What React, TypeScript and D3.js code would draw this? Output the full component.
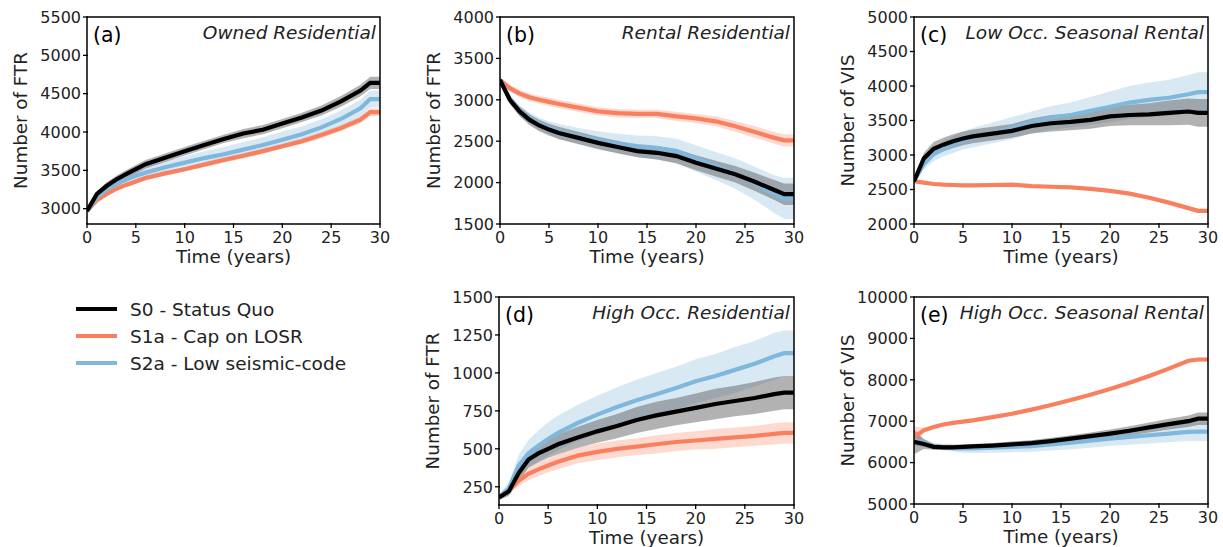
import * as d3 from 'd3';
import React from 'react';

// time axis shared by every panel
const years = [0, 1, 2, 3, 4, 5, 6, 8, 10, 12, 14, 16, 18, 20, 22, 24, 26, 28, 29, 30];

const scenarios = ['S0 - Status Quo', 'S1a - Cap on LOSR', 'S2a - Low seismic-code'];
const colors = ['#000000', '#f9805f', '#80b7dc'];

// (a) Owned Residential
const a_s0 = [2970, 3190, 3295, 3380, 3450, 3515, 3580, 3665, 3750, 3830, 3910, 3980, 4030, 4110, 4190, 4280, 4400, 4540, 4640, 4640];
const a_s0_sd = [20, 40, 45, 50, 50, 55, 55, 55, 55, 55, 55, 60, 60, 60, 60, 65, 70, 75, 80, 80];
const a_s1 = [2970, 3110, 3190, 3260, 3310, 3355, 3400, 3460, 3515, 3575, 3635, 3690, 3750, 3815, 3880, 3960, 4050, 4160, 4260, 4260];
const a_s1_sd = [15, 25, 25, 30, 30, 30, 30, 30, 30, 30, 35, 35, 35, 35, 40, 40, 40, 45, 50, 50];
const a_s2 = [2970, 3150, 3250, 3320, 3380, 3430, 3470, 3540, 3600, 3660, 3710, 3770, 3830, 3900, 3970, 4060, 4170, 4310, 4430, 4430];
const a_s2_sd = [15, 40, 50, 60, 65, 70, 75, 80, 85, 90, 95, 100, 100, 105, 105, 105, 110, 110, 110, 110];

// (b) Rental Residential
const b_s0 = [3240, 3000, 2860, 2760, 2690, 2640, 2600, 2540, 2480, 2430, 2380, 2360, 2320, 2240, 2170, 2100, 2010, 1910, 1860, 1860];
const b_s0_sd = [20, 50, 60, 65, 70, 70, 75, 75, 75, 75, 75, 80, 85, 90, 95, 100, 110, 120, 130, 130];
const b_s1 = [3240, 3140, 3075, 3030, 3000, 2975, 2950, 2905, 2860, 2840, 2830, 2830, 2800, 2775, 2740, 2680, 2610, 2540, 2510, 2510];
const b_s1_sd = [15, 40, 45, 45, 45, 50, 50, 50, 50, 50, 50, 50, 55, 55, 60, 65, 70, 70, 75, 75];
const b_s2 = [3240, 3010, 2870, 2780, 2710, 2660, 2620, 2560, 2510, 2470, 2440, 2420, 2380, 2290, 2200, 2110, 1990, 1860, 1810, 1810];
const b_s2_sd = [15, 50, 60, 70, 75, 80, 90, 100, 110, 120, 130, 140, 150, 160, 170, 185, 200, 230, 250, 250];

// (c) Low Occ. Seasonal Rental
const c_s0 = [2620, 2950, 3090, 3150, 3200, 3240, 3270, 3310, 3350, 3420, 3460, 3480, 3510, 3560, 3580, 3590, 3610, 3630, 3610, 3610];
const c_s0_sd = [20, 80, 100, 100, 100, 100, 100, 100, 100, 110, 120, 120, 130, 140, 150, 160, 180, 190, 200, 200];
const c_s1 = [2620, 2600, 2580, 2570, 2565, 2560, 2560, 2565, 2570, 2550, 2540, 2530, 2510, 2480, 2440, 2380, 2310, 2230, 2190, 2190];
const c_s1_sd = [10, 20, 20, 20, 20, 20, 20, 20, 20, 20, 20, 20, 20, 20, 20, 25, 25, 25, 30, 30];
const c_s2 = [2620, 2870, 3010, 3090, 3150, 3210, 3250, 3320, 3390, 3470, 3540, 3580, 3640, 3700, 3760, 3800, 3830, 3880, 3910, 3910];
const c_s2_sd = [20, 80, 100, 110, 120, 130, 140, 150, 160, 160, 170, 180, 200, 220, 240, 250, 260, 280, 290, 290];

// (d) High Occ. Residential
const d_s0 = [180, 220, 340, 430, 470, 500, 530, 575, 615, 650, 690, 720, 745, 770, 795, 815, 835, 860, 870, 870];
const d_s0_sd = [15, 30, 50, 55, 60, 60, 65, 70, 75, 80, 85, 90, 90, 95, 100, 100, 105, 110, 110, 110];
const d_s1 = [180, 225, 290, 335, 365, 390, 415, 455, 480, 500, 515, 530, 545, 555, 565, 575, 585, 598, 605, 605];
const d_s1_sd = [15, 25, 35, 40, 45, 45, 50, 50, 55, 55, 55, 60, 60, 60, 65, 65, 65, 70, 70, 70];
const d_s2 = [180, 240, 390, 470, 520, 565, 605, 670, 725, 775, 820, 860, 900, 945, 980, 1020, 1060, 1110, 1130, 1130];
const d_s2_sd = [15, 40, 70, 90, 100, 110, 115, 120, 125, 130, 135, 140, 140, 145, 145, 150, 150, 155, 150, 150];

// (e) High Occ. Seasonal Rental
const e_s0 = [6500, 6450, 6380, 6370, 6370, 6380, 6390, 6410, 6440, 6470, 6520, 6580, 6640, 6700, 6770, 6850, 6930, 7000, 7060, 7060];
const e_s0_sd = [300, 120, 70, 60, 60, 60, 60, 60, 70, 70, 80, 80, 90, 100, 110, 120, 130, 140, 150, 150];
const e_s1 = [6620, 6780, 6860, 6920, 6960, 6990, 7020, 7100, 7180, 7280, 7390, 7510, 7640, 7780, 7930, 8090, 8270, 8460, 8490, 8490];
const e_s1_sd = [250, 60, 40, 40, 40, 40, 40, 40, 40, 40, 40, 40, 40, 40, 45, 45, 45, 45, 45, 45];
const e_s2 = [6550, 6470, 6400, 6370, 6350, 6340, 6340, 6360, 6380, 6400, 6440, 6480, 6530, 6580, 6620, 6660, 6700, 6740, 6750, 6750];
const e_s2_sd = [150, 100, 80, 80, 90, 100, 110, 120, 130, 140, 150, 160, 170, 180, 190, 200, 210, 220, 230, 230];

const xTicks = [0, 5, 10, 15, 20, 25, 30];

const panels = [
  { tag: '(a)', title: 'Owned Residential', ylabel: 'Number of FTR', domain: [2800, 5500], ticks: [3000, 3500, 4000, 4500, 5000, 5500],
    means: [a_s0, a_s1, a_s2], sds: [a_s0_sd, a_s1_sd, a_s2_sd], box: [87, 17, 380, 224] },
  { tag: '(b)', title: 'Rental Residential', ylabel: 'Number of FTR', domain: [1500, 4000], ticks: [1500, 2000, 2500, 3000, 3500, 4000],
    means: [b_s0, b_s1, b_s2], sds: [b_s0_sd, b_s1_sd, b_s2_sd], box: [500, 17, 794, 224] },
  { tag: '(c)', title: 'Low Occ. Seasonal Rental', ylabel: 'Number of VIS', domain: [2000, 5000], ticks: [2000, 2500, 3000, 3500, 4000, 4500, 5000],
    means: [c_s0, c_s1, c_s2], sds: [c_s0_sd, c_s1_sd, c_s2_sd], box: [914, 17, 1208, 224] },
  { tag: '(d)', title: 'High Occ. Residential', ylabel: 'Number of FTR', domain: [130, 1500], ticks: [250, 500, 750, 1000, 1250, 1500],
    means: [d_s0, d_s1, d_s2], sds: [d_s0_sd, d_s1_sd, d_s2_sd], box: [499, 297, 794, 505] },
  { tag: '(e)', title: 'High Occ. Seasonal Rental', ylabel: 'Number of VIS', domain: [5000, 10000], ticks: [5000, 6000, 7000, 8000, 9000, 10000],
    means: [e_s0, e_s1, e_s2], sds: [e_s0_sd, e_s1_sd, e_s2_sd], box: [914, 297, 1208, 504] },
];

const font = 'DejaVu Sans, sans-serif';
const drawOrder = [1, 2, 0];

function Panel({ p }) {
  const [x0, y0, x1, y1] = p.box;
  const x = d3.scaleLinear().domain([0, 30]).range([x0, x1]);
  const y = d3.scaleLinear().domain(p.domain).range([y1, y0]);

  const band = (m, s) => d3.area()
    .x((d, i) => x(years[i]))
    .y0((d, i) => y(m[i] - s[i]))
    .y1((d, i) => y(m[i] + s[i]))(m);
  const line = d3.line()
    .x((d, i) => x(years[i]))
    .y(d => y(d));

  const clipId = 'clip' + p.tag.replace(/[()]/g, '');
  return (
    <g>
      <defs>
        <clipPath id={clipId}><rect x={x0} y={y0} width={x1 - x0} height={y1 - y0} /></clipPath>
      </defs>
      <g clipPath={`url(#${clipId})`}>
        {drawOrder.map(k => (
          <path key={'b' + k} d={band(p.means[k], p.sds[k])} fill={k === 0 ? '#555' : colors[k]} fillOpacity={k === 0 ? 0.45 : 0.3} />
        ))}
        {drawOrder.map(k => (
          <path key={'l' + k} d={line(p.means[k])} fill="none" stroke={colors[k]} strokeWidth={4.2} />
        ))}
      </g>
      <rect x={x0} y={y0} width={x1 - x0} height={y1 - y0} fill="none" stroke="#000" strokeWidth={1.5} />
      {xTicks.map(t => (
        <g key={'x' + t}>
          <line x1={x(t)} x2={x(t)} y1={y1 - 1} y2={y1 + 4} stroke="#000" strokeWidth={1.3} />
          <text x={x(t)} y={y1 + 18.5} textAnchor="middle" fontSize={16} fontFamily={font} fill="#222">{t}</text>
        </g>
      ))}
      {p.ticks.map(t => (
        <g key={'y' + t}>
          <line x1={x0 - 4} x2={x0 + 1} y1={y(t)} y2={y(t)} stroke="#000" strokeWidth={1.3} />
          <text x={x0 - 6} y={y(t)} dy="0.36em" textAnchor="end" fontSize={16} fontFamily={font} fill="#222">{t}</text>
        </g>
      ))}
      <text x={(x0 + x1) / 2} y={y1 + 38.5} textAnchor="middle" fontSize={18.3} fontFamily={font} fill="#222">Time (years)</text>
      <text transform={`translate(${x0 - 67},${(y0 + y1) / 2}) rotate(-90)`} dy="0.36em" textAnchor="middle" fontSize={18.3} fontFamily={font} fill="#222">{p.ylabel}</text>
      <text x={x0 + 6} y={y0 + 25} fontSize={20.5} fontFamily={font} fill="#000">{p.tag}</text>
      <text x={x1 - 4} y={y0 + 22} textAnchor="end" fontSize={18.5} fontStyle="italic" fontFamily={font} fill="#222">{p.title}</text>
    </g>
  );
}

function Legend() {
  const ly = d3.scalePoint().domain(scenarios).range([309, 363]);
  return (
    <g>
      {scenarios.map((s, k) => (
        <g key={s}>
          <line x1={76} x2={117} y1={ly(s)} y2={ly(s)} stroke={colors[k]} strokeWidth={4.2} />
          <text x={130} y={ly(s)} dy="0.36em" fontSize={18.5} fontFamily={font} fill="#222">{s}</text>
        </g>
      ))}
    </g>
  );
}

export default function App() {
  return (
    <svg width={1223} height={547} style={{ position: 'absolute', left: 0, top: 0, background: '#fff' }}>
      {panels.map(p => <Panel key={p.tag} p={p} />)}
      <Legend />
    </svg>
  );
}
